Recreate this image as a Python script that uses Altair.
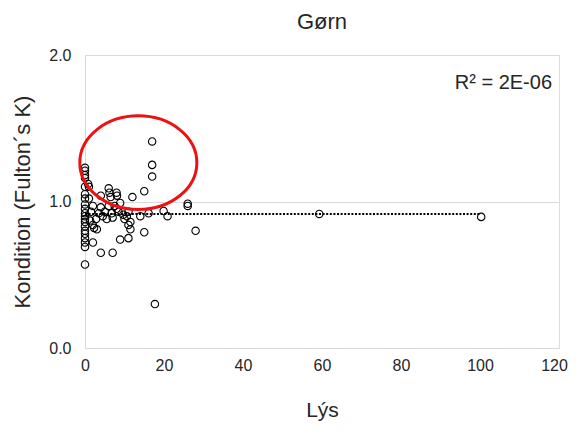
import altair as alt
import pandas as pd

# Data
lys = [0, 0, 0, 0, 0, 0, 0, 0, 0, 0, 0, 0, 0, 0, 0, 0, 0, 0, 0, 0,
       0.8, 1.0, 1.0, 1.3, 1.5, 2.0, 2.0, 2.3, 2.0, 2.8, 3.0, 3.5, 4.0, 4.0, 4.0,
       4.5, 5.0, 5.5, 6.0, 6.2, 6.5, 6.0, 6.8, 7.0, 7.0, 7.5, 8.0, 8.1, 8.0, 8.5,
       8.9, 8.9, 9.7, 10.0, 10.6, 11.0, 11.0, 11.0, 11.5, 11.5, 12.0, 14.0, 15.0,
       15.0, 16.1, 17.0, 17.0, 17.0, 17.7, 19.9, 20.9, 26.0, 26.0, 28.0, 59.3, 100.3]
kondition = [1.23, 1.21, 1.18, 1.16, 1.10, 1.05, 1.02, 0.98, 0.95, 0.92, 0.90, 0.88,
             0.86, 0.83, 0.80, 0.78, 0.75, 0.72, 0.69, 0.57,
             1.12, 1.10, 1.02, 0.87, 0.93, 0.97, 0.84, 0.82, 0.72, 0.88, 0.81, 0.92,
             1.04, 0.96, 0.65, 0.90, 0.93, 0.88, 1.09, 1.06, 1.03, 0.97, 0.92, 0.89,
             0.65, 0.97, 1.06, 1.04, 0.95, 0.93, 0.99, 0.74, 0.91, 0.88, 0.90, 0.93,
             0.84, 0.75, 0.86, 0.81, 1.03, 0.90, 1.07, 0.79, 0.92, 1.41, 1.25, 1.17,
             0.30, 0.935, 0.90, 0.985, 0.97, 0.80, 0.915, 0.895]

trend_x = [0, 100]
trend_y = [0.915, 0.915]

ellipse_x = [13.5]
ellipse_y = [1.265]

x_ticks = [0, 20, 40, 60, 80, 100, 120]
y_ticks = [0.0, 1.0, 2.0]

FONT = "Liberation Sans"
TXT = "#262626"
GRID = "#d9d9d9"

pts = pd.DataFrame({"Lýs": lys, "K": kondition})
trend = pd.DataFrame({"Lýs": trend_x, "K": trend_y})
ell = pd.DataFrame({"Lýs": ellipse_x, "K": ellipse_y})

xscale = alt.Scale(domain=[0, 120], nice=False, zero=False)
yscale = alt.Scale(domain=[0, 2], nice=False)

xaxis = alt.Axis(values=x_ticks, title="Lýs", grid=False, ticks=False,
                 domainColor=GRID, labelFont=FONT, labelFontSize=16, labelColor=TXT,
                 labelPadding=9, labelFlush=False,
                 labelOffset={"condition": {"test": "datum.value === 120", "value": -5},
                              "value": 0},
                 titleFont=FONT, titleFontSize=21, titleFontWeight="normal", titleColor=TXT,
                 titleY=62, titleBaseline="middle")
yaxis = alt.Axis(values=y_ticks, format=".1f", title="Kondition (Fulton´s K)",
                 grid=True, gridColor=GRID, ticks=False, domainColor=GRID,
                 labelFont=FONT, labelFontSize=16, labelColor=TXT, labelPadding=14,
                 titleFont=FONT, titleFontSize=22, titleFontWeight="normal", titleColor=TXT,
                 titleX=-63, titleY=146.5, titleAngle=270, titleAlign="center",
                 titleBaseline="middle")

points = alt.Chart(pts).mark_point(shape="circle", filled=False, color="black",
                                    size=55, strokeWidth=1.1, opacity=1).encode(
    x=alt.X("Lýs:Q", scale=xscale, axis=xaxis),
    y=alt.Y("K:Q", scale=yscale, axis=yaxis),
)

line = alt.Chart(trend).mark_line(color="black", strokeWidth=2, strokeDash=[2, 1.6]).encode(
    x=alt.X("Lýs:Q", scale=xscale),
    y=alt.Y("K:Q", scale=yscale),
)

ellipse_path = "M-1,0A1,0.8,0,1,1,1,0A1,0.8,0,1,1,-1,0Z"
ellipse = alt.Chart(ell).mark_point(shape=ellipse_path, filled=False, color="#ee1111",
                                     size=13700, strokeWidth=3, opacity=1).encode(
    x=alt.X("Lýs:Q", scale=xscale),
    y=alt.Y("K:Q", scale=yscale),
)

r2 = alt.Chart(pd.DataFrame({"t": ["R² = 2E-06"]})).mark_text(
    font=FONT, fontSize=20, color=TXT, align="right", baseline="middle").encode(
    x=alt.value(467), y=alt.value(28), text="t:N")

chart = alt.layer(points, line, ellipse, r2).properties(
    width=474, height=293,
    title=alt.TitleParams("Gørn", font=FONT, fontSize=22, fontWeight="normal",
                          color=TXT, anchor="middle", frame="group", offset=13),
    autosize=alt.AutoSizeParams(type="none"),
    padding={"left": 77, "top": 47, "right": 9, "bottom": 76},
).configure_view(stroke=None).configure(background="white")

chart.save("out.html", embed_options={"renderer": "svg", "actions": False})
